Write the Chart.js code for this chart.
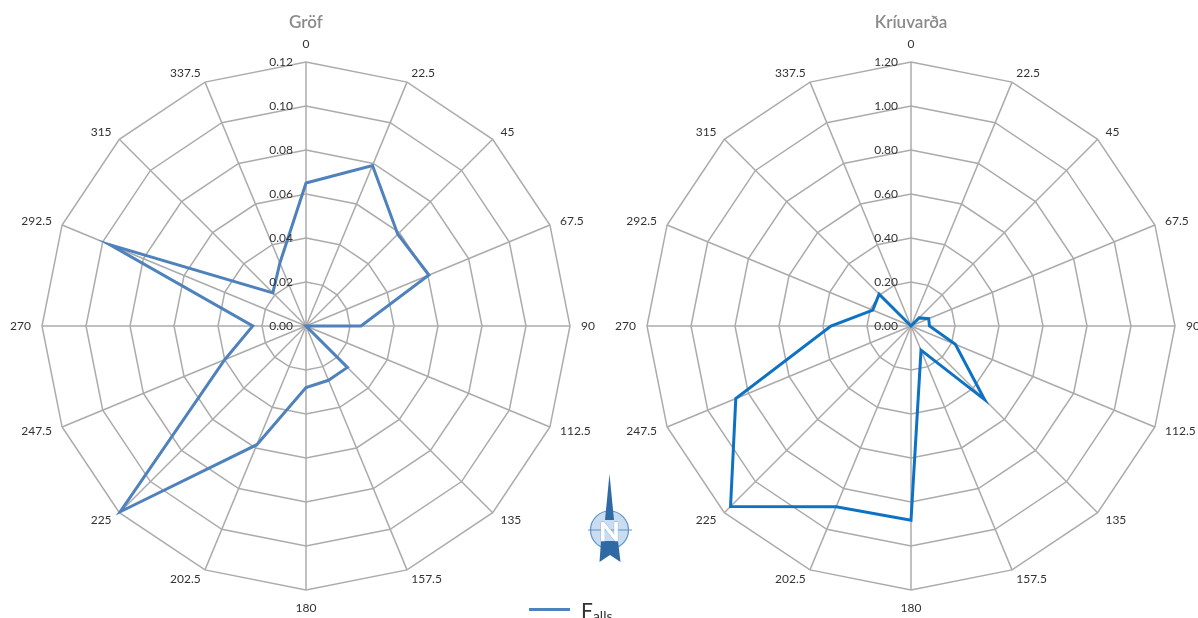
<!DOCTYPE html>
<html>
<head>
<meta charset="utf-8">
<title>Gröf og Krísuvarða</title>
<script src="https://cdn.jsdelivr.net/npm/chart.js@4"></script>
<style>
  html, body { margin: 0; padding: 0; background: #fff; }
  body { position: relative; width: 1198px; height: 618px; overflow: hidden; font-family: Lato, sans-serif; }
  .box { position: absolute; top: 0; width: 600px; height: 618px; }
  #box-left { left: 6px; }
  #box-right { left: 611px; }
  #north { position: absolute; left: 580px; top: 470px; }
  #legend-line { position: absolute; left: 529px; top: 608px; width: 41px; height: 3px; background: #4f81bd; }
  #legend-text { position: absolute; left: 581px; top: 598px; font-size: 21px; line-height: 24px; color: #333; white-space: nowrap; }
  #legend-text sub { font-size: 14px; vertical-align: -3px; line-height: 0; }
</style>
</head>
<body>
<div class="box" id="box-left"><canvas id="chart-left" width="600" height="618"></canvas></div>
<div class="box" id="box-right"><canvas id="chart-right" width="600" height="618"></canvas></div>

<svg id="north" width="60" height="96" viewBox="580 470 60 96">
  <circle cx="609.5" cy="530" r="19" fill="#c9dcf0" stroke="#5f93c9" stroke-width="1.2"></circle>
  <path d="M588 530H632" stroke="#5f93c9" stroke-width="1"></path>
  <path d="M609.5 474L614 520H605Z" fill="#2f6aa5"></path>
  <path d="M601 541H618L620.5 562L610 555L599.5 562Z" fill="#2f6aa5"></path>
  <text x="609.5" y="540.5" text-anchor="middle" font-family="Lato, sans-serif" font-weight="900" font-size="27" fill="#fff" stroke="#8fb4dc" stroke-width="0.8" paint-order="stroke">N</text>
</svg>

<div id="legend-line"></div>
<div id="legend-text">F<sub>alls</sub></div>

<script>
// wind directions, clockwise from north
const directions = ["0", "22.5", "45", "67.5", "90", "112.5", "135", "157.5", "180", "202.5", "225", "247.5", "270", "292.5", "315", "337.5"]

const grofValues = [0.065, 0.079, 0.059, 0.0605, 0.025, 0, 0.0266, 0.0267, 0.028, 0.0584, 0.1194, 0.04, 0.0242, 0.0964, 0.0213, 0.031]
const krisuvardaValues = [0, 0, 0.052, 0.087, 0.084, 0.218, 0.473, 0.119, 0.883, 0.889, 1.16, 0.862, 0.364, 0.188, 0.205, 0]

const gridColor = "#ababab"
const labelColor = "#333333"

// Excel style labels: radial ticks left of the north axis, direction labels hugging the corners
const excelLabels = {
  id: "excelLabels",
  afterDatasetsDraw(chart) {
    const scale = chart.scales.r
    const ctx = chart.ctx
    ctx.save()
    ctx.font = "12px Lato, sans-serif"
    ctx.fillStyle = labelColor
    ctx.textBaseline = "middle"

    ctx.textAlign = "right"
    scale.ticks.forEach((tick) => {
      const y = scale.yCenter - scale.getDistanceFromCenterForValue(tick.value)
      ctx.fillText(tick.value.toFixed(2), scale.xCenter - 13, y)
    })

    chart.data.labels.forEach((label, i) => {
      const corner = scale.getPointPosition(i, scale.drawingArea)
      const dx = Math.cos(corner.angle)
      const dy = Math.sin(corner.angle)
      if (Math.abs(dx) < 0.01) {
        ctx.textAlign = "center"
        ctx.fillText(label, corner.x, corner.y + Math.sign(dy) * 18)
      } else {
        ctx.textAlign = dx > 0 ? "left" : "right"
        ctx.fillText(label, corner.x + dx * 11, corner.y + dy * 10)
      }
    })
    ctx.restore()
  },
}

function drawRadar(canvasId, title, values, maxValue, stepValue, lineColor) {
  new Chart(document.getElementById(canvasId), {
    type: "radar",
    data: {
      labels: directions,
      datasets: [
        {
          label: "Falls",
          data: values,
          borderColor: lineColor,
          borderWidth: 3,
          borderJoinStyle: "miter",
          backgroundColor: "transparent",
          fill: false,
          pointRadius: 0,
          tension: 0,
        },
      ],
    },
    options: {
      responsive: false,
      animation: false,
      layout: { padding: { top: 12, bottom: 28 } },
      scales: {
        r: {
          min: 0,
          max: maxValue,
          ticks: { stepSize: stepValue, display: false },
          grid: { color: gridColor, lineWidth: 1.5 },
          angleLines: { color: gridColor, lineWidth: 1.5 },
          pointLabels: { display: false },
        },
      },
      plugins: {
        legend: { display: false },
        tooltip: { enabled: false },
        title: { display: true, text: title, color: "#8a8a8a", font: { family: "Lato, sans-serif", size: 17, weight: "600" }, padding: { top: 0, bottom: 29.6 } },
      },
    },
    plugins: [excelLabels],
  })
}

drawRadar("chart-left", "Gröf", grofValues, 0.12, 0.02, "#4f81bd")
drawRadar("chart-right", "Kríuvarða", krisuvardaValues, 1.2, 0.2, "#0e72c4")
</script>
</body>
</html>
